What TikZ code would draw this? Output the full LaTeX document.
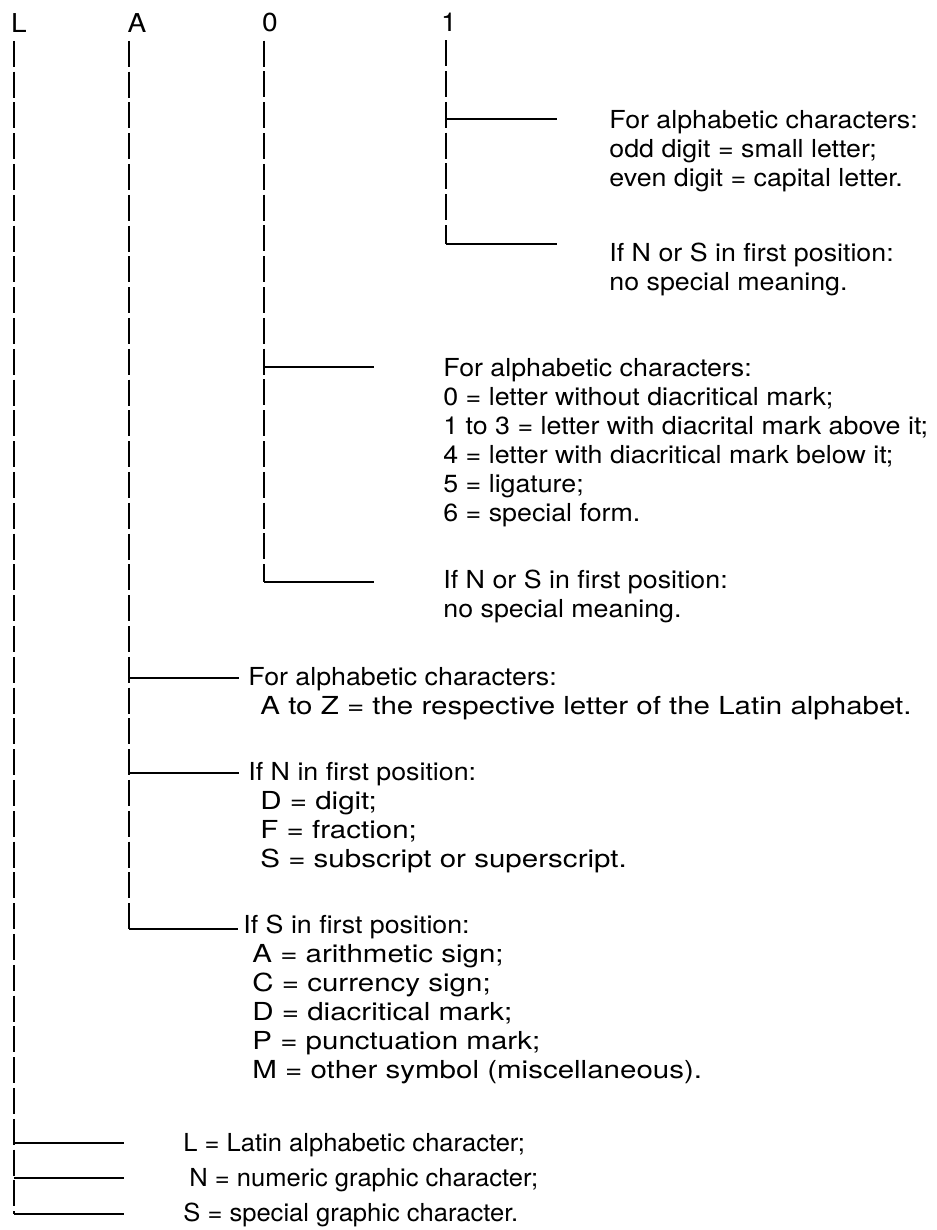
\documentclass[tikz,border=0pt]{standalone}
\usepackage{fontspec}
\setmainfont[FakeStretch=1.08]{TeX Gyre Heros}
\newfontfamily\wideface[FakeStretch=1.19]{TeX Gyre Heros}
\newfontfamily\narrowface[FakeStretch=1.03]{TeX Gyre Heros}
\usetikzlibrary{positioning}

\begin{document}
\begin{tikzpicture}[
    x=0.5pt, y=-0.5pt,
    head/.style={anchor=north, inner sep=0pt, font=\fontsize{13}{15}\selectfont},
    txt/.style={anchor=north west, inner sep=0pt, align=left, font=\fontsize{12.4}{14.5}\selectfont},
    stem/.style={line width=0.8pt, dash pattern=on 13pt off 2.4pt},
    tick/.style={line width=0.6pt}
]
\useasboundingbox (0,0) rectangle (936,1230);

% code positions
\node[head] (hL) at (19,13) {L};
\node[head] (hA) at (137,13) {A};
\node[head] (h0) at (270,13) {0};
\node[head] (h1) at (449,13) {1};

% corners and branch points
\coordinate (kL) at (14,1214);
\coordinate (kA) at (129,929);
\coordinate (k0) at (264,582);
\coordinate (k1) at (446,244);
\coordinate (b1a) at (446,119);
\coordinate (b0a) at (264,367);
\coordinate (bAa) at (129,678);
\coordinate (bAb) at (129,773);
\coordinate (bLa) at (14,1143);
\coordinate (bLb) at (14,1178);

\draw[stem, shorten <=4pt] (hL.south -| kL) -- (kL);
\draw[stem, shorten <=4pt] (hA.south -| kA) -- (kA);
\draw[stem, shorten <=4pt] (h0.south -| k0) -- (k0);
\draw[stem, shorten <=4pt] (h1.south -| k1) -- (k1);

% fourth position
\node[txt] (t1a) at (609,110) {For alphabetic characters:\\odd digit = small letter;\\even digit = capital letter.};
\node[txt] (t1b) at (609,243) {If N or S in first position:\\no special meaning.};
\draw[tick, shorten >=26pt] (b1a) -- (b1a -| t1a.west);
\draw[tick, shorten >=26pt] (k1) -- (k1 -| t1b.west);

% third position
\node[txt] (t0a) at (443,358) {For alphabetic characters:\\0 = letter without diacritical mark;\\1 to 3 = letter with diacrital mark above it;\\4 = letter with diacritical mark below it;\\5 = ligature;\\6 = special form.};
\node[txt] (t0b) at (443,570) {If N or S in first position:\\no special meaning.};
\draw[tick, shorten >=34.5pt] (b0a) -- (b0a -| t0a.west);
\draw[tick, shorten >=34.5pt] (k0) -- (k0 -| t0b.west);

% second position
\node[txt] (tAa) at (248,667) {For alphabetic characters:\\\hspace*{6pt}\wideface A to Z = the respective letter of the Latin alphabet.};
\node[txt] (tAb) at (248,762) {If N in first position:\\\hspace*{6pt}\wideface D = digit;\\\hspace*{6pt}\wideface F = fraction;\\\hspace*{6pt}\wideface S = subscript or superscript.};
\node[txt] (tAc) at (243,915) {If S in first position:\\\hspace*{4.5pt}\wideface A = arithmetic sign;\\\hspace*{4.5pt}\wideface C = currency sign;\\\hspace*{4.5pt}\wideface D = diacritical mark;\\\hspace*{4.5pt}\wideface P = punctuation mark;\\\hspace*{4.5pt}\wideface M = other symbol (miscellaneous).};
\draw[tick, shorten >=4.5pt] (bAa) -- (bAa -| tAa.west);
\draw[tick, shorten >=4.5pt] (bAb) -- (bAb -| tAb.west);
\draw[tick, shorten >=2.5pt] (kA) -- (kA -| tAc.west);

% first position
\node[txt, font=\narrowface\fontsize{12.4}{14.5}\selectfont] (tLa) at (183,1133) {L = Latin alphabetic character;};
\node[txt, font=\narrowface\fontsize{12.4}{14.5}\selectfont] (tLb) at (183,1168) {\hspace*{3pt}N = numeric graphic character;};
\node[txt, font=\narrowface\fontsize{12.4}{14.5}\selectfont] (tLc) at (183,1203) {S = special graphic character.};
\draw[tick, shorten >=29.5pt] (bLa) -- (bLa -| tLa.west);
\draw[tick, shorten >=29.5pt] (bLb) -- (bLb -| tLb.west);
\draw[tick, shorten >=29.5pt] (kL) -- (kL -| tLc.west);
\end{tikzpicture}
\end{document}
